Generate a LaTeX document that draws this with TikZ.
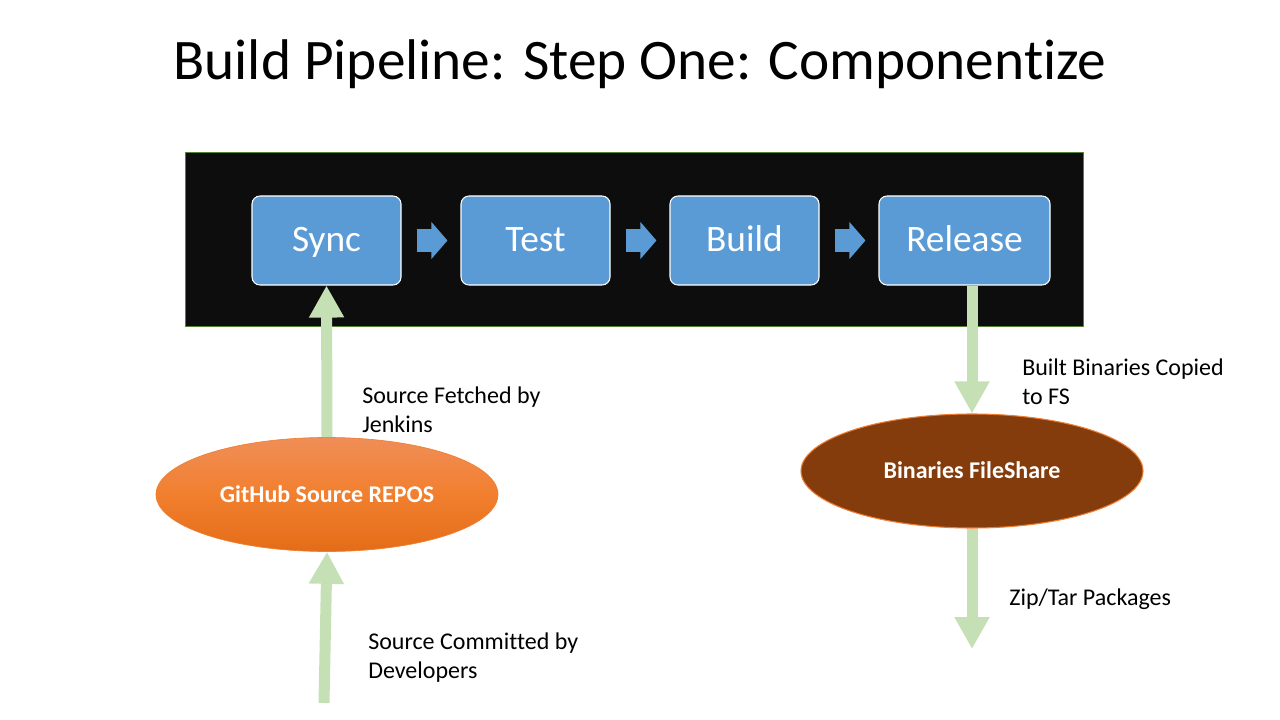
\documentclass[tikz,border=0pt]{standalone}
\usepackage{fontspec}
\setmainfont[Ligatures=NoCommon]{Carlito}
\usetikzlibrary{arrows.meta,shapes.geometric}

\definecolor{panelbg}{RGB}{13,13,13}
\definecolor{panelrim}{RGB}{84,130,53}
\definecolor{stepblue}{RGB}{91,155,213}
\definecolor{flowgreen}{RGB}{197,224,180}
\definecolor{orangetop}{RGB}{240,142,88}
\definecolor{orangemid}{RGB}{241,127,46}
\definecolor{orangebot}{RGB}{228,108,24}
\definecolor{fsbrown}{RGB}{132,60,12}
\definecolor{fsrim}{RGB}{237,125,49}

\tikzset{
  panel/.style={draw=panelrim, line width=0.75pt, fill=panelbg,
    minimum width=673.5pt, minimum height=129.75pt, inner sep=0pt},
  stepbox/.style={draw=white, line width=0.8pt, fill=stepblue, rounded corners=6pt,
    minimum width=111.75pt, minimum height=66.75pt, inner sep=0pt,
    text=white, font=\fontsize{28}{33}\selectfont, text height=20pt, text depth=3.5pt},
  blockarrow/.style={draw=stepblue, line width=16.5pt,
    -{Triangle[width=27pt,length=12pt]}, shorten <=11.25pt, shorten >=9.75pt},
  flowarrow/.style={draw=flowgreen, line width=8.25pt,
    -{Triangle[width=24.75pt,length=24pt]}},
  store/.style={ellipse, minimum width=256.5pt, minimum height=85.5pt, inner sep=0pt,
    text=white, font=\bfseries\fontsize{18}{21.6}\selectfont,
    text height=13pt, text depth=1.75pt},
  % anchored at the baseline of the last line
  note/.style={anchor=base west, align=left, inner sep=0pt,
    font=\fontsize{18}{21.75}\selectfont}
}

\begin{document}
\begin{tikzpicture}[x=0.75pt, y=-0.75pt]
\useasboundingbox (0,0) rectangle (1280,720);
\fill[white] (0,0) rectangle (1280,720);

% title
\node[anchor=base, inner sep=0pt, font=\fontsize{43}{51}\selectfont] (title) at (640,80)
  {Build Pipeline: Step One: Componentize};

% pipeline panel and stages
\node[panel] (panel) at (634,239.5) {};
\node[stepbox] (sync) at (326.5,240.5) {Sync};
\node[stepbox] (test) at (535.5,240.5) {Test};
\node[stepbox] (build) at (744.5,240.5) {Build};
\node[stepbox, minimum width=128.25pt] (rel) at (964.5,240.5) {Release};

\draw[blockarrow] (sync) -- (test);
\draw[blockarrow] (test) -- (build);
\draw[blockarrow] (build) -- (rel);

% storage
\node[store, draw=orangemid, line width=0.5pt, top color=orangetop, bottom color=orangebot,
  middle color=orangemid] (ghub) at (327,494.5) {GitHub Source REPOS};
\node[store, draw=fsrim, line width=0.8pt, fill=fsbrown] (fs) at (972,471) {Binaries FileShare};

% data flow
\coordinate (devs) at (324,703);
\coordinate (pkgs) at (972,649);
\draw[flowarrow] (ghub.north) -- (sync.south);
\draw[flowarrow] (devs) -- (ghub.south);
\draw[flowarrow] (fs.north |- rel.south) -- (fs.north);
\draw[flowarrow] (fs.south) -- (pkgs);

% flow labels
\node[note] (fetch) at (362,432) {Source Fetched by\\Jenkins};
\node[note] (commit) at (368,678) {Source Committed by\\Developers};
\node[note] (copied) at (1022,404) {Built Binaries Copied\\to FS};
\node[note] (zip) at (1009,605) {Zip/Tar Packages};
\end{tikzpicture}
\end{document}
